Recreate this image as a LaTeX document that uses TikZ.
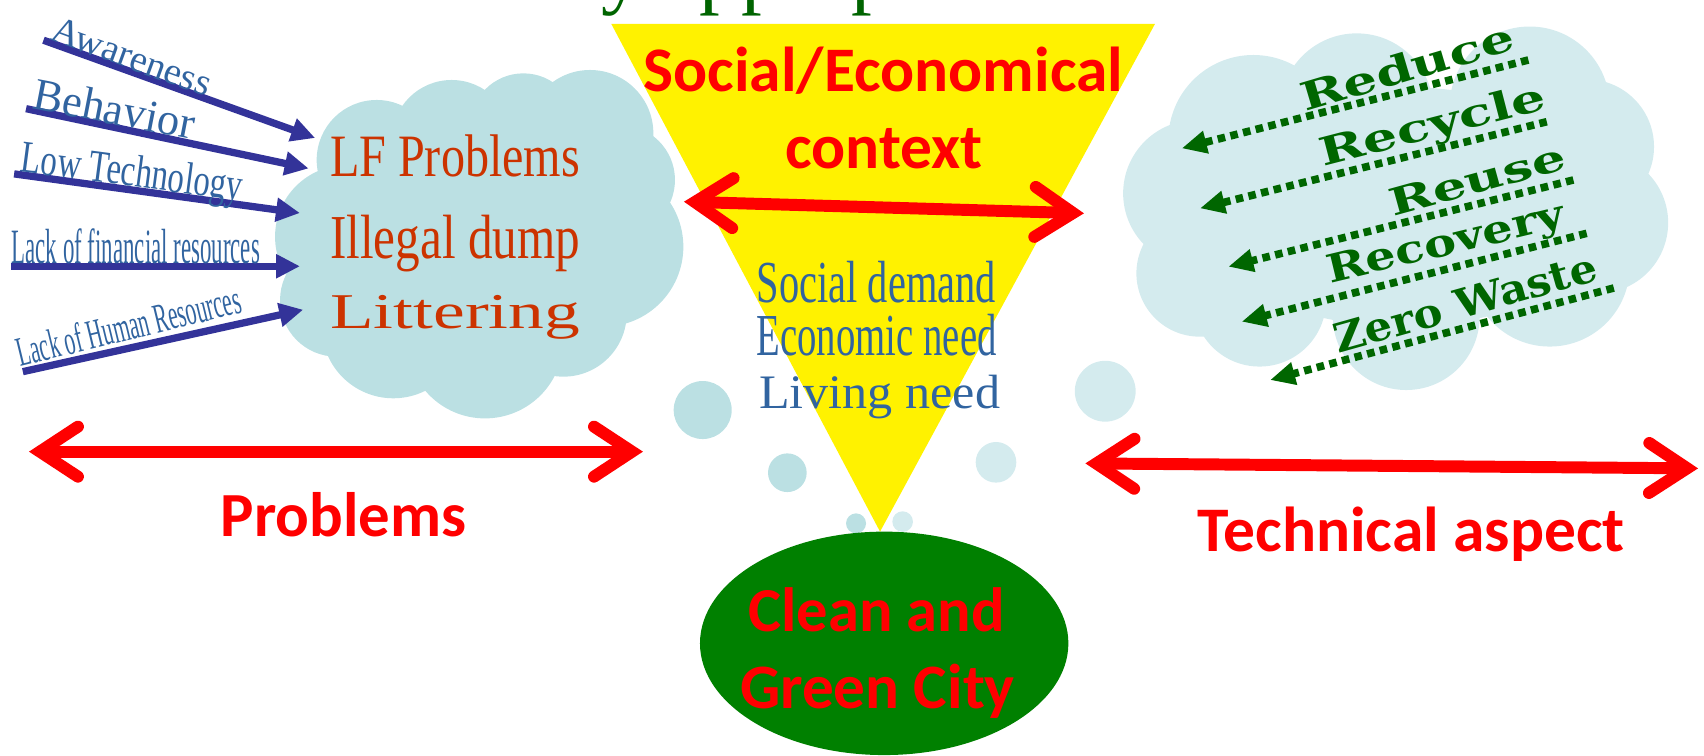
\documentclass[tikz,border=0pt]{standalone}
\usepackage{fontspec}
\usepackage{graphicx}
\setmainfont{Liberation Serif}
\newfontfamily\calibri{Carlito}
\newfontfamily\wideserif{DejaVu Serif}
\usetikzlibrary{arrows.meta,calc,shapes.geometric}
\definecolor{cloudA}{RGB}{187,224,227}
\definecolor{cloudB}{RGB}{212,235,238}
\definecolor{labelblue}{RGB}{49,100,160}
\definecolor{arrowblue}{RGB}{51,51,153}
\definecolor{orangered}{RGB}{204,51,0}
\definecolor{darkgreen}{RGB}{0,102,0}
\definecolor{ellgreen}{RGB}{0,128,0}
\definecolor{titlegreen}{RGB}{0,100,0}
\newcommand\fitwh[3]{\resizebox{#1pt}{#2pt}{#3}}
\newcommand\fitw[2]{\resizebox{#1pt}{!}{#2}}
\newcommand\dblred[2]{%
  \draw[redshaft] ($(#1)!9pt!(#2)$) -- ($(#2)!9pt!(#1)$);
  \draw[redbarb] ($(#1)!45pt!(#2)!23pt!90:(#2)$) -- ($(#1)!10pt!(#2)$) -- ($(#1)!45pt!(#2)!23pt!-90:(#2)$);
  \draw[redbarb] ($(#2)!45pt!(#1)!23pt!90:(#1)$) -- ($(#2)!10pt!(#1)$) -- ($(#2)!45pt!(#1)!23pt!-90:(#1)$);
}
\begin{document}
\begin{tikzpicture}[x=1pt,y=-1pt,
  lbl/.style={inner sep=0pt, outer sep=0pt, anchor=base west, text=labelblue},
  cloudtxt/.style={inner sep=0pt, outer sep=0pt, anchor=base west, text=orangered},
  needtxt/.style={inner sep=0pt, outer sep=0pt, anchor=base west, text=labelblue},
  rwords/.style={inner sep=0pt, outer sep=0pt, anchor=base west, text=darkgreen, font=\wideserif\bfseries},
  redlbl/.style={inner sep=0pt, outer sep=0pt, anchor=base, text=red, font=\calibri\bfseries},
  bluearrow/.style={draw=arrowblue, line width=6.7pt, -{Triangle[length=22pt,width=21pt]}},
  dotarrow/.style={draw=darkgreen, line width=7pt, dash pattern=on 7pt off 5pt, -{Triangle[length=23pt,width=20pt]}},
  redshaft/.style={draw=red, line width=11pt},
  redbarb/.style={draw=red, line width=11pt, line cap=round, line join=miter}
]
\useasboundingbox (0,0) rectangle (1568,695);

% title fragment (clipped at the top edge)
\begin{scope}
  \clip (0,0) rectangle (1568,695);
  \node[inner sep=0pt, anchor=base west, text=titlegreen, font=\fontsize{76pt}{84pt}\selectfont] (title) at (553,-1.5) {y appropriate};
\end{scope}

% left cloud
\begin{scope}[fill=cloudA]
  \fill (346.6,147.2) circle[radius=55.2];
  \fill (415.6,128.8) circle[radius=55.2];
  \fill (481.6,116.6) circle[radius=49.1];
  \fill (542.9,122.7) circle[radius=58.3];
  \fill (570.5,165.6) circle[radius=50.6];
  \fill (555.2,227) circle[radius=73.6];
  \fill (518.4,288.3) circle[radius=58.3];
  \fill (446.3,312.9) circle[radius=72.1];
  \fill (361.9,300.6) circle[radius=65.9];
  \fill (309.8,276.1) circle[radius=52.1];
  \fill (319,217.8) circle[radius=65.9];
  \fill (440,220) ellipse[x radius=130, y radius=110];
\end{scope}

% right cloud
\begin{scope}[fill=cloudB]
  \fill (1153.3,128.8) circle[radius=78.2];
  \fill (1248.4,101.2) circle[radius=70.5];
  \fill (1407.6,98) circle[radius=73.6];
  \fill (1460,135) circle[radius=62];
  \fill (1470,205) circle[radius=65];
  \fill (1426,245.3) circle[radius=73.6];
  \fill (1294,291.4) circle[radius=67.5];
  \fill (1159,276) circle[radius=61.3];
  \fill (1104,251.5) circle[radius=58.3];
  \fill (1101,177.9) circle[radius=67.5];
  \fill (1290,190) ellipse[x radius=200, y radius=110];
\end{scope}

% thought bubbles
\fill[cloudA] (646.6,377.3) circle[radius=26.7];
\fill[cloudA] (724.5,435) circle[radius=17.8];
\fill[cloudA] (787.7,481.6) circle[radius=9.2];
\fill[cloudB] (830.6,480) circle[radius=9.5];
\fill[cloudB] (916.5,425.4) circle[radius=18.7];
\fill[cloudB] (1017,360) circle[radius=28];

% yellow funnel
\coordinate (t1) at (562.5,22);
\coordinate (t2) at (1062.8,22);
\coordinate (t3) at (809.8,489.2);
\fill[yellow] (t1) -- (t2) -- (t3) -- cycle;

% green ellipse
\node[ellipse, fill=ellgreen, minimum width=339pt, minimum height=205.6pt, inner sep=0pt] (city) at (813.6,592) {};

% left cloud texts
\node[cloudtxt] (lf) at (303.7,162.6) {\fitwh{230}{38.4}{LF Problems}};
\node[cloudtxt] (il) at (303.7,237.7) {\fitwh{230}{39.9}{Illegal dump}};
\node[cloudtxt] (li) at (303.7,302.1) {\fitwh{230}{30.5}{Littering}};

% blue arrows and labels
\coordinate (a1s) at (40,37);   \coordinate (a1e) at (290,127);
\coordinate (a2s) at (24,100);  \coordinate (a2e) at (284,155);
\coordinate (a3s) at (13,160);  \coordinate (a3e) at (276,196);
\coordinate (a4s) at (10,245);  \coordinate (a4e) at (276,245);
\coordinate (a5s) at (21,342);  \coordinate (a5e) at (279,285);
\draw[bluearrow] (a1s) -- (a1e);
\draw[bluearrow] (a2s) -- (a2e);
\draw[bluearrow] (a3s) -- (a3e);
\draw[bluearrow] (a4s) -- (a4e);
\draw[bluearrow] (a5s) -- (a5e);
\node[lbl, rotate=-20] (aw) at (46,36.8) {\fitwh{153}{23}{Awareness}};
\node[lbl, rotate=-11] (be) at (29.1,99.7) {\fitwh{150}{29}{Behavior}};
\node[lbl, rotate=-7.5] (lt) at (18.4,158) {\fitwh{205}{29}{Low Technology}};
\node[lbl] (lfr) at (10.7,242.3) {\fitwh{228.5}{32}{Lack of financial resources}};
\node[lbl, rotate=13.7] (lhr) at (19,337.3) {\fitwh{211}{27}{Lack of Human Resources}};

% green dotted arrows and words
\coordinate (g1s) at (1406.4,55.2);  \coordinate (g1e) at (1087.4,136.5);
\coordinate (g2s) at (1423.3,112);   \coordinate (g2e) at (1104.2,191.7);
\coordinate (g3s) at (1447.8,165.6); \coordinate (g3e) at (1130.3,245.4);
\coordinate (g4s) at (1460,214.7);   \coordinate (g4e) at (1142.6,296);
\coordinate (g5s) at (1485,265);     \coordinate (g5e) at (1168.7,349.7);
\draw[dotarrow] (g1s) -- (g1e);
\draw[dotarrow] (g2s) -- (g2e);
\draw[dotarrow] (g3s) -- (g3e);
\draw[dotarrow] (g4s) -- (g4e);
\draw[dotarrow] (g5s) -- (g5e);
\node[rwords, rotate=16.5] (rd) at (1201,103) {\fitwh{203}{27}{Reduce}};
\node[rwords, rotate=14.5] (rc) at (1217.6,153.3) {\fitwh{214}{27}{Recycle}};
\node[rwords, rotate=15.4] (ru) at (1282,199.4) {\fitwh{167}{25}{Reuse}};
\node[rwords, rotate=13.5] (rv) at (1223.9,260.7) {\fitwh{224}{26}{Recovery}};
\node[rwords, rotate=15.7] (zw) at (1231.5,325.1) {\fitwh{250}{27}{Zero Waste}};

% funnel texts
\node[redlbl] (soc) at (812.8,84.4) {\fitw{441}{Social/Economical}};
\node[redlbl] (ctx) at (813.4,154.9) {\fitw{181.4}{context}};
\node[needtxt] (sd) at (696.3,278) {\fitwh{220}{38}{Social demand}};
\node[needtxt] (en) at (696.3,326.7) {\fitwh{220.7}{38}{Economic need}};
\node[needtxt] (ln) at (698.7,375.7) {\fitwh{221.5}{30.7}{Living need}};

% red double arrows
\coordinate (m1) at (629.4,185.6); \coordinate (m2) at (997.4,196.3);
\coordinate (p1) at (26.7,415.6);  \coordinate (p2) at (591.6,415.6);
\coordinate (q1) at (998.8,426.4); \coordinate (q2) at (1562.5,431);
\dblred{m1}{m2}
\dblred{p1}{p2}
\dblred{q1}{q2}

% red labels
\node[redlbl] (prob) at (316,493.8) {\fitw{226}{Problems}};
\node[redlbl] (tech) at (1298.6,507.6) {\fitw{393}{Technical aspect}};
\node[redlbl] (cl1) at (806.7,581.3) {\fitw{236}{Clean and}};
\node[redlbl] (cl2) at (807.5,651.8) {\fitw{253}{Green City}};
\end{tikzpicture}
\end{document}
